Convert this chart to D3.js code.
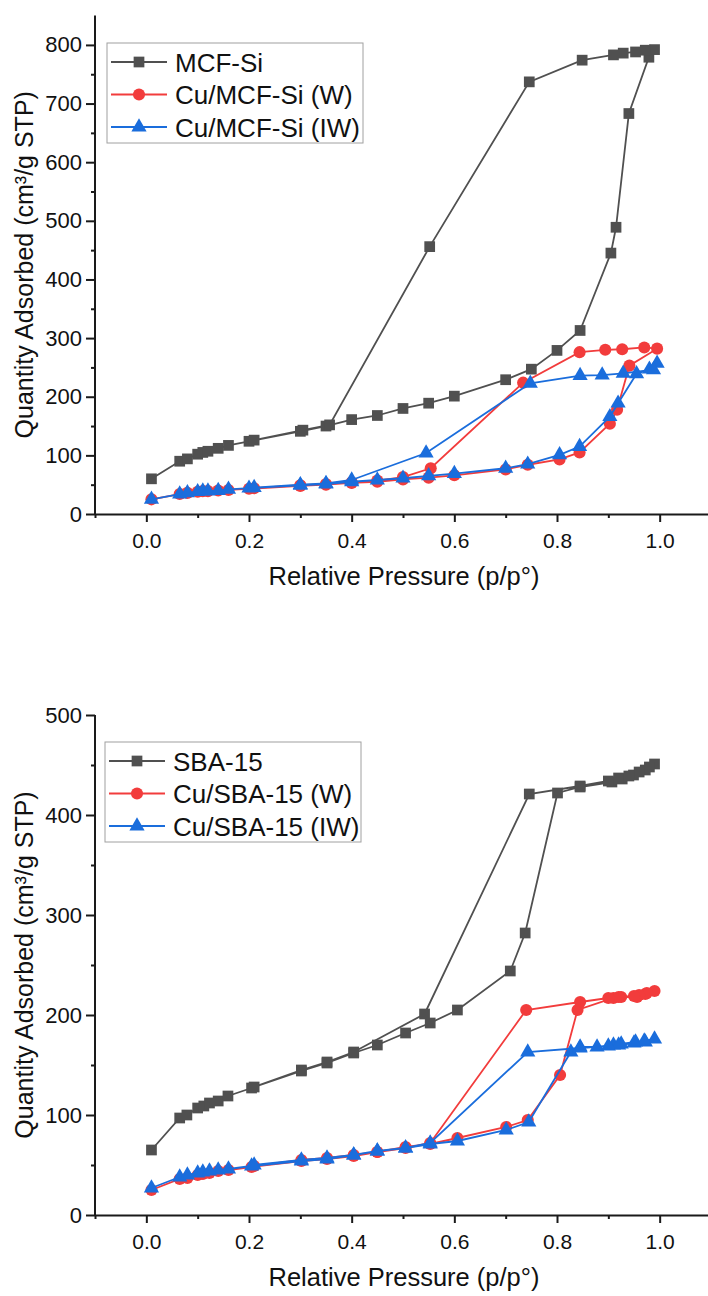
<!DOCTYPE html>
<html>
<head>
<meta charset="utf-8">
<script src="https://cdn.jsdelivr.net/npm/d3@7"></script>
<style>
  body { margin: 0; background: #fff; }
  svg { display: block; font-family: "Liberation Sans", Arial, sans-serif; }
</style>
</head>
<body>
<div id="chart"></div>
<script>
// MCF-Si panel (adsorption then desorption branch, in plot order)
const mcfP = [0.01,0.065,0.08,0.1,0.11,0.12,0.14,0.16,0.2,0.3,0.35,0.4,0.45,0.5,0.55,0.6,0.7,0.75,0.8,0.845,0.905,0.915,0.94,0.979,0.99,
              0.972,0.953,0.929,0.91,0.849,0.746,0.552,0.357,0.305,0.21];
const mcfQ = [60,90,94,102,105,107,112,117,124,141,150,161,168,180,189,201,229,247,279,313,445,489,683,779,792,
              791,788,786,783,774,737,456,152,143,126];

const mcfWP = [0.01,0.065,0.08,0.1,0.11,0.12,0.14,0.16,0.2,0.3,0.35,0.4,0.45,0.5,0.55,0.6,0.7,0.743,0.805,0.844,0.903,0.917,0.941,0.995,
               0.97,0.927,0.894,0.844,0.734,0.554,0.5,0.45,0.4,0.35,0.3,0.21];
const mcfWQ = [25,34,36,38,39,39,40,41,43,48,50,53,55,59,62,66,76,84,93,105,154,178,253,282,
               284,281,280,276,224,78,63,57,54,51,49,44];

const mcfIWP = [0.01,0.065,0.08,0.1,0.11,0.12,0.14,0.16,0.2,0.3,0.35,0.4,0.45,0.5,0.55,0.6,0.7,0.743,0.805,0.844,0.903,0.919,0.955,0.98,0.995,
                0.988,0.929,0.888,0.845,0.748,0.545,0.4,0.35,0.3,0.21];
const mcfIWQ = [25,34,36,38,39,39,40,42,44,49,51,55,58,61,65,69,78,85,101,115,166,189,239,247,257,
                246,240,237,236,223,104,58,52,50,45];

// SBA-15 panel
const sbaP = [0.01,0.065,0.079,0.1,0.112,0.123,0.14,0.159,0.205,0.302,0.352,0.404,0.45,0.505,0.553,0.606,0.709,0.738,0.801,0.845,0.907,0.927,0.949,0.972,0.99,
              0.98,0.96,0.94,0.92,0.9,0.845,0.746,0.542,0.404,0.352,0.302,0.21];
const sbaQ = [65,97,100,107,109,112,114,119,127,144,152,162,170,182,192,205,244,282,422,428,433,436,440,445,451,
              448,443,439,437,434,429,421,201,163,153,145,128];

const sbaWP = [0.01,0.065,0.08,0.1,0.11,0.123,0.14,0.16,0.205,0.302,0.352,0.404,0.45,0.505,0.553,0.606,0.701,0.743,0.806,0.84,0.91,0.925,0.956,0.972,0.99,
               0.975,0.96,0.95,0.92,0.9,0.845,0.74,0.553,0.505,0.45,0.404,0.352,0.302,0.21];
const sbaWQ = [25,36,37,40,41,42,44,45,48,54,56,59,63,68,71,77,88,95,140,205,217,218,218,221,224,
               222,220,219,218,217,213,205,72,67,63,60,57,55,49];

const sbaIWP = [0.01,0.065,0.08,0.1,0.11,0.123,0.14,0.16,0.205,0.302,0.352,0.404,0.45,0.505,0.553,0.606,0.701,0.745,0.827,0.845,0.878,0.91,0.925,0.953,0.972,0.99,
                0.97,0.95,0.92,0.9,0.845,0.743,0.553,0.505,0.45,0.404,0.352,0.302,0.21];
const sbaIWQ = [27,38,40,42,43,44,45,46,49,54,56,60,64,67,71,74,85,93,163,168,168,170,171,173,173,176,
                174,172,170,169,167,163,72,67,64,60,57,55,50];

const xTicks = [0.0, 0.2, 0.4, 0.6, 0.8, 1.0];
const xMinor = [-0.1, 0.1, 0.3, 0.5, 0.7, 0.9, 1.1];
const topYTicks = [0, 100, 200, 300, 400, 500, 600, 700, 800];
const topYMinor = [50, 150, 250, 350, 450, 550, 650, 750];
const botYTicks = [0, 100, 200, 300, 400, 500];
const botYMinor = [50, 150, 250, 350, 450];

const topNames = ["MCF-Si", "Cu/MCF-Si (W)", "Cu/MCF-Si (IW)"];
const botNames = ["SBA-15", "Cu/SBA-15 (W)", "Cu/SBA-15 (IW)"];

const colors = ["#505050", "#f23c3c", "#1a6ddc"];
const symbols = [d3.symbolSquare, d3.symbolCircle, d3.symbolTriangle];
const symSize = [115, 115, 100];

const width = 708, height = 1296;

const svg = d3.select("#chart").append("svg")
  .attr("width", width)
  .attr("height", height);

const x = d3.scaleLinear().domain([-0.1, 1.1]).range([95, 711]);

function panel(cfg) {
  const g = svg.append("g");
  const y = d3.scaleLinear().domain(cfg.yDomain).range([cfg.bottom, cfg.top]);

  // series: line then markers
  cfg.series.forEach((s, i) => {
    const pts = s.p.map((p, k) => [p, s.q[k]]);
    g.append("path")
      .datum(pts)
      .attr("fill", "none")
      .attr("stroke", colors[i])
      .attr("stroke-width", 1.8)
      .attr("d", d3.line().x(d => x(d[0])).y(d => y(d[1])));
    g.selectAll(null)
      .data(pts)
      .join("path")
      .attr("transform", d => `translate(${x(d[0])},${y(d[1])})`)
      .attr("fill", colors[i])
      .attr("d", d3.symbol(symbols[i], symSize[i]));
  });

  // x axis: minor ticks carry the axis line, major ticks get labels
  const xa = g.append("g").attr("transform", `translate(0,${cfg.bottom})`);
  xa.call(d3.axisBottom(x).tickValues(xMinor).tickSize(4).tickSizeOuter(0).tickFormat(""));
  const xMajor = xa.append("g").call(d3.axisBottom(x).tickValues(xTicks).tickSize(8).tickPadding(11)
    .tickFormat(d3.format(".1f")));
  xMajor.select(".domain").remove();

  // y axis
  const ya = g.append("g").attr("transform", `translate(95,0)`);
  ya.call(d3.axisLeft(y).tickValues(cfg.yMinor).tickSize(4).tickSizeOuter(0).tickFormat(""));
  const yMajor = ya.append("g").call(d3.axisLeft(y).tickValues(cfg.yTicks).tickSize(9).tickPadding(4));
  yMajor.select(".domain").remove();
  ya.select(".domain").attr("d", `M0,${cfg.bottom + 1}V${cfg.top}`);

  g.selectAll(".domain").attr("stroke", "#1a1a1a").attr("stroke-width", 2);
  g.selectAll(".tick line").attr("stroke", "#1a1a1a").attr("stroke-width", 2);
  xa.selectAll("text").attr("font-size", 21).attr("fill", "#111").attr("font-family", null);
  ya.selectAll("text").attr("font-size", 22).attr("fill", "#111").attr("font-family", null);

  // axis titles
  g.append("text")
    .attr("x", 404)
    .attr("y", cfg.bottom + 71)
    .attr("text-anchor", "middle")
    .attr("font-size", 25.5)
    .attr("fill", "#111")
    .text("Relative Pressure (p/p°)");

  g.append("text")
    .attr("transform", `translate(33,${(cfg.top + cfg.bottom) / 2}) rotate(-90)`)
    .attr("text-anchor", "middle")
    .attr("font-size", 25)
    .attr("fill", "#111")
    .text("Quantity Adsorbed (cm³/g STP)");

  // legend
  const lg = g.append("g").attr("transform", `translate(${cfg.legX},${cfg.legY})`);
  lg.append("rect")
    .attr("width", 256).attr("height", 100)
    .attr("fill", "#fff").attr("stroke", "#a0a0a0").attr("stroke-width", 1);
  cfg.names.forEach((name, i) => {
    const row = lg.append("g").attr("transform", `translate(0,${19 + i * 32.5})`);
    row.append("line").attr("x1", 4).attr("x2", 60)
      .attr("stroke", colors[i]).attr("stroke-width", 1.8);
    row.append("path").attr("transform", "translate(32,0)")
      .attr("fill", colors[i]).attr("d", d3.symbol(symbols[i], symSize[i]));
    row.append("text").attr("x", 68).attr("y", 9.5)
      .attr("font-size", 26).attr("fill", "#111").text(name);
  });
}

panel({
  top: 15.6, bottom: 514, yDomain: [0, 850],
  yTicks: topYTicks, yMinor: topYMinor,
  names: topNames, legX: 107, legY: 43,
  series: [{p: mcfP, q: mcfQ}, {p: mcfWP, q: mcfWQ}, {p: mcfIWP, q: mcfIWQ}]
});

panel({
  top: 715, bottom: 1215, yDomain: [0, 500],
  yTicks: botYTicks, yMinor: botYMinor,
  names: botNames, legX: 105, legY: 742,
  series: [{p: sbaP, q: sbaQ}, {p: sbaWP, q: sbaWQ}, {p: sbaIWP, q: sbaIWQ}]
});
</script>
</body>
</html>
